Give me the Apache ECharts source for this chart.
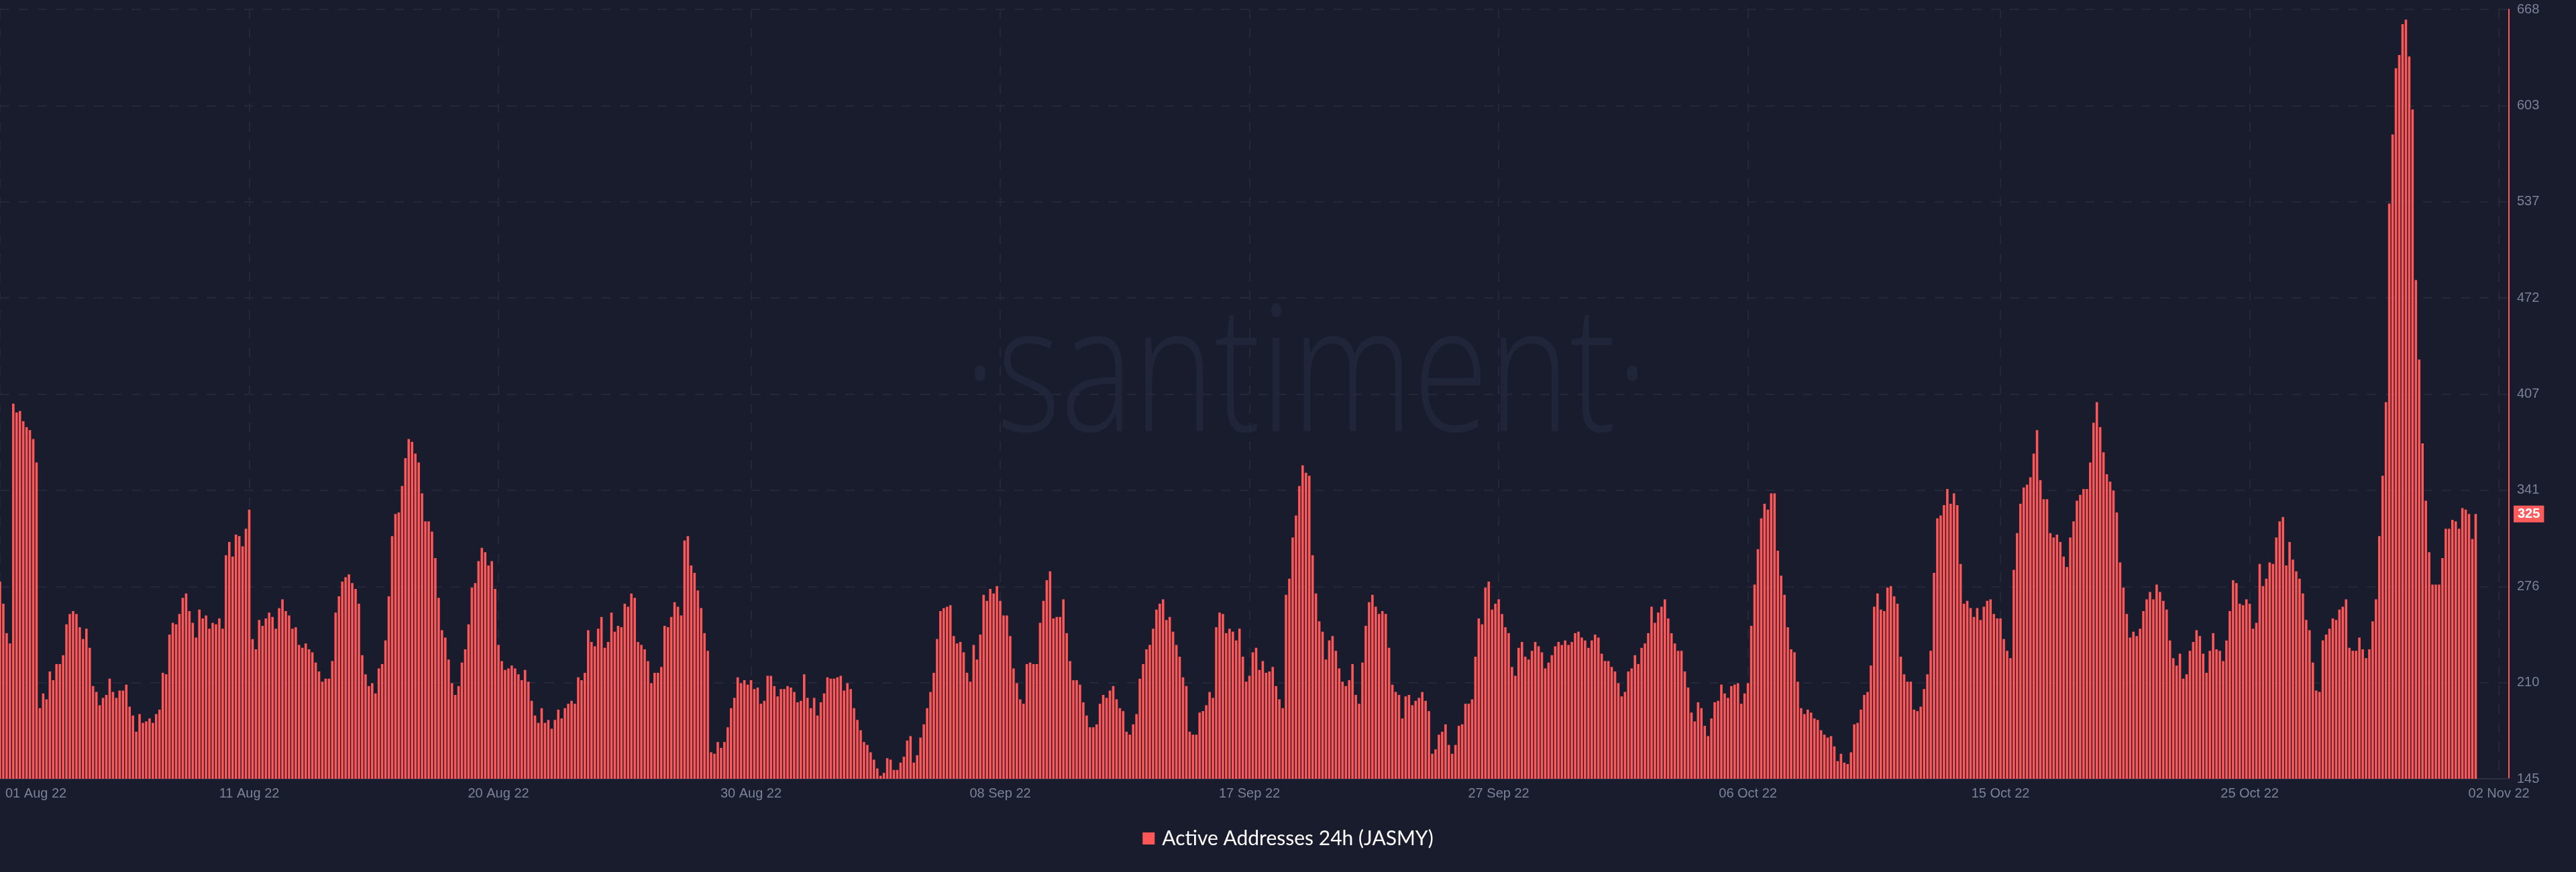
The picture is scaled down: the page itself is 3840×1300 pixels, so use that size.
<!DOCTYPE html>
<html><head><meta charset="utf-8">
<script src="https://cdn.jsdelivr.net/npm/echarts@6/dist/echarts.min.js"></script>
<style>html,body{margin:0;padding:0;background:#191c2c;}#c{width:3840px;height:1300px;}</style>
</head><body><div id="c"></div>
<script>
const seriesName = 'Active Addresses 24h (JASMY)';
const tickLabels = ['01 Aug 22','11 Aug 22','20 Aug 22','30 Aug 22','08 Sep 22','17 Sep 22','27 Sep 22','06 Oct 22','15 Oct 22','25 Oct 22','02 Nov 22'];
const tickIndex = [0,75,150,226,301,376,451,526,602,677,752];
const yMin = 145, yMax = 668, yStep = 65.375;
const slotCount = 756;

const seg1 = [279,264,244,237,400,394,395,388,384,382,376,360,193,203,199,218,212,223,223,229,250,257,259,257,248,240,247,234,208,204,195,200,202,213,204,200,205,205,209,194,188,177,189,183,184,186,183,189,192,217,216,243,251,250,257,268,271,259,251,241,260,254,256,247,251,250,254,247,297,306,296,311,310,303,315,328,240,233,253,249,254,258,255,247,261,267,259,256,247,248,236,234,237,233,231,224,218,211,213,213,225,258,269,279,282,284,278,274,264,229,216,208,210,203,220,223,239,269,310,325,326,344,363,376,374,366];
const seg2 = [360,339,320,320,313,295,268,246,241,226,210,202,208,224,233,250,275,278,293,302,299,290,293,274,236,225,219,220,222,220,216,212,219,211,198,188,183,193,183,185,179,185,192,186,193,196,198,196,214,212,217,246,238,235,247,255,234,238,258,245,249,248,264,262,271,268,238,236,233,225,210,217,217,221,249,248,255,265,262,256,307,310,290,285,273,261,244,232,163,162,170,166,170,180,193,200,214,210,212,209,212,206,207,196,198,215,215,208,201,206,206,208,207,204,197,198,216,200,193,200,188,197,203,214,213,213];
const seg3 = [214,215,205,210,206,193,185,178,170,168,163,158,152,147,149,159,158,151,151,156,160,171,174,156,161,173,182,193,204,217,240,259,261,262,263,242,237,238,231,217,211,236,226,243,270,266,274,271,276,266,256,256,242,220,210,199,196,223,224,223,223,251,266,280,286,254,255,255,267,244,225,212,212,209,197,188,180,180,182,196,202,200,205,208,199,193,191,177,175,182,189,213,223,233,236,247,260,264,267,253,255,245,236,228,214,208,177,175,175,190,191,195,204,200,248,258,257,244,247,245,239,247,228,211,215];
const seg4 = [231,234,219,225,217,218,221,208,199,193,270,281,309,324,344,358,353,351,297,271,252,245,226,239,242,232,220,211,208,212,223,202,196,224,249,265,270,262,257,259,257,234,209,204,202,186,201,202,195,198,200,204,198,191,162,165,175,177,182,168,162,168,181,182,196,196,199,228,254,250,275,279,260,264,267,257,248,244,221,215,234,238,228,226,232,238,235,231,220,224,229,235,238,236,239,236,238,244,245,241,239,234,239,243,241,230,225,225,221,218,210,201,204,218,220,229,223,234,237,244,262,251,258,262,267];
const seg5 = [254,244,237,232,232,218,207,190,184,197,193,181,174,186,197,198,209,203,200,208,209,210,196,203,210,249,277,301,322,332,328,339,339,300,283,270,248,233,231,211,193,189,192,190,186,185,178,175,173,174,167,157,162,156,155,163,182,183,192,202,204,222,262,271,260,259,275,276,269,264,228,216,211,211,192,191,194,206,216,232,285,322,324,331,342,332,339,331,291,264,266,261,255,261,253,262,266,267,257,254,254,240,232,227,287,312,332,343,345,350,366,382,348,335,335,312,309,311,306,296,289,309,320,334,338];
const seg6 = [342,342,360,387,401,384,367,352,347,341,326,292,275,257,241,245,242,247,259,267,272,267,277,272,266,260,239,227,222,230,213,216,232,238,246,242,230,217,232,244,233,232,225,239,259,280,278,264,263,267,264,247,251,291,276,281,292,291,309,320,323,290,306,294,286,281,271,253,246,224,205,204,239,243,247,254,253,260,262,267,234,232,232,241,233,227,233,252,267,310,351,401,536,583,628,637,658,661,636,600,484,430,373,334,299,277,277,277,295,315,315,321,320,315,329,328,325,308,325];

const values = [].concat(seg1, seg2, seg3, seg4, seg5, seg6);
const categories = Array.from({length: slotCount}, (_, i) => String(i));
const tickMap = {};
tickIndex.forEach((idx, k) => { tickMap[idx] = tickLabels[k]; });
const lastValue = values[values.length - 1];

const chart = echarts.init(document.getElementById('c'), null, {renderer: 'canvas'});
chart.setOption({
  backgroundColor: '#191c2c',
  animation: false,
  grid: {left: 0, right: 100, top: 14, bottom: 139},
  graphic: [{
    type: 'text', x: 1947, y: 568, z: 0, silent: true, scaleX: 0.82, scaleY: 1.05,
    style: {text: '·santiment·', font: '300 250px "Open Sans"', fill: '#21253a', textAlign: 'center', textVerticalAlign: 'middle'}
  }],
  legend: {
    top: 1230, left: 'center', icon: 'rect', itemWidth: 18, itemHeight: 18,
    data: [seriesName],
    textStyle: {color: '#ffffff', fontSize: 30, fontFamily: 'Lato', padding: [0, 0, 0, 6]}
  },
  xAxis: {
    type: 'category', data: categories, boundaryGap: false,
    axisLine: {show: true, lineStyle: {color: '#2a2e40', width: 2}},
    axisTick: {show: false},
    axisLabel: {
      interval: (i) => tickMap[i] !== undefined,
      formatter: (v, i) => (i === 0 ? '{first|' + tickMap[i] + '}' : (tickMap[i] || '')),
      color: '#7b8299', fontSize: 20, fontFamily: 'Liberation Sans', margin: 12,
      alignMinLabel: 'left',
      rich: {first: {color: '#7b8299', fontSize: 20, fontFamily: 'Liberation Sans', padding: [0, 0, 0, 8]}}
    },
    splitLine: {show: true, interval: (i) => tickMap[i] !== undefined, lineStyle: {color: '#242838', width: 2, type: [14, 14]}}
  },
  yAxis: {
    type: 'value', position: 'right', min: yMin, max: yMax, interval: yStep,
    axisLine: {show: true, lineStyle: {color: '#ff5b5b', width: 2}},
    axisTick: {show: false},
    axisLabel: {color: '#7b8299', fontSize: 20, fontFamily: 'Liberation Sans', margin: 12, formatter: (v) => String(Math.round(v))},
    splitLine: {show: true, lineStyle: {color: '#242838', width: 2, type: [14, 14]}}
  },
  series: [{
    type: 'bar', name: seriesName, data: values, barWidth: 3.6,
    itemStyle: {color: '#ff5757'},
    markLine: {
      silent: true, symbol: ['none', 'none'],
      lineStyle: {color: 'transparent', width: 0},
      data: [{yAxis: lastValue}],
      label: {show: true, position: 'end', distance: 7, formatter: () => String(lastValue),
        backgroundColor: '#ff5b5b', color: '#ffffff', fontSize: 20, fontWeight: 'bold',
        fontFamily: 'Liberation Sans', padding: [3, 6, 2, 6]}
    }
  }]
});
</script></body></html>
